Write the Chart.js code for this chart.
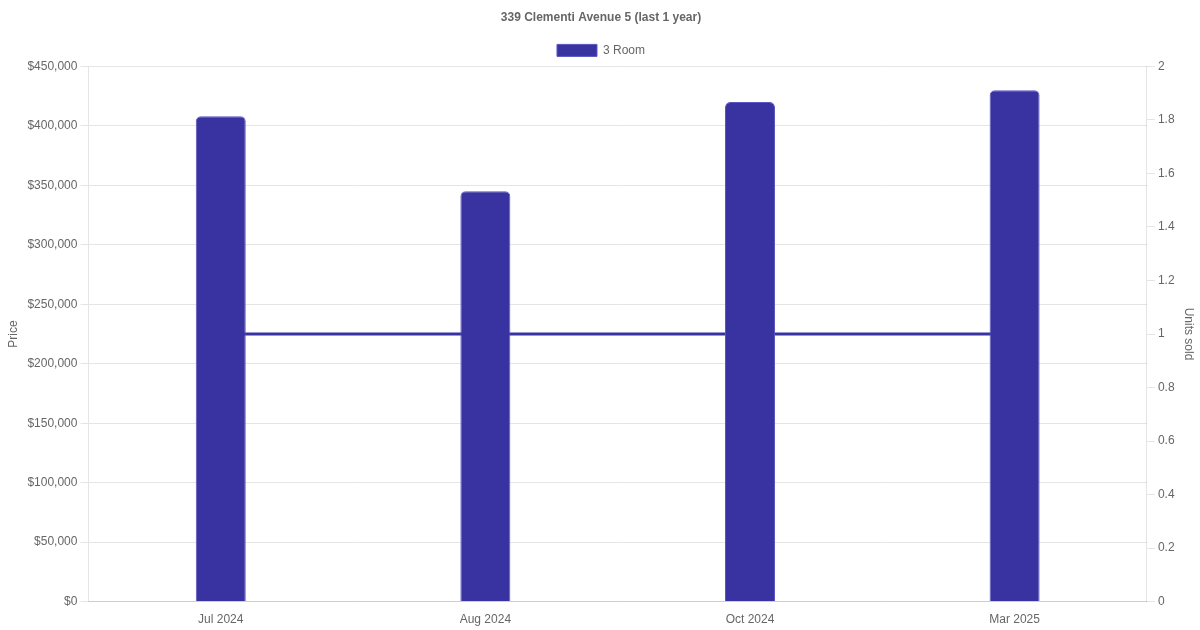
<!DOCTYPE html>
<html>
<head>
<meta charset="utf-8">
<script src="https://cdn.jsdelivr.net/npm/chart.js@4"></script>
<style>
  html, body { margin: 0; padding: 0; background: #fff; }
  #wrap { width: 1200px; height: 630px; }
</style>
</head>
<body>
<div id="wrap"><canvas id="grafico"></canvas></div>
<script>
const months = ["Jul 2024", "Aug 2024", "Oct 2024", "Mar 2025"];
const prices = [408000, 345000, 420000, 430000];
const unitsSold = [1, 1, 1, 1];

const colour = "#3833a0";

Chart.defaults.font.family = "'Liberation Sans', Arial, sans-serif";
Chart.defaults.color = "#666";

const ctx = document.getElementById("grafico").getContext("2d");
const grafico = new Chart(ctx, {
  type: "bar",
  data: {
    labels: months,
    datasets: [
      {
        label: "3 Room",
        data: prices,
        backgroundColor: colour,
        borderColor: "#5a55c0",
        borderWidth: 1,
        borderRadius: 5,
        borderSkipped: "bottom",
        maxBarThickness: 50,
        yAxisID: "y",
        order: 1,
      },
      {
        type: "line",
        label: "Units sold",
        data: unitsSold,
        borderColor: colour,
        backgroundColor: colour,
        borderWidth: 3,
        pointRadius: 0,
        yAxisID: "y1",
        order: 2,
      },
    ],
  },
  options: {
    responsive: true,
    maintainAspectRatio: false,
    animation: false,
    layout: { padding: { left: 2 } },
    plugins: {
      title: {
        display: true,
        text: "339 Clementi Avenue 5 (last 1 year)",
        font: { size: 12, weight: "bold" },
      },
      legend: {
        position: "top",
        labels: { filter: (item) => item.datasetIndex === 0 },
      },
    },
    scales: {
      x: {
        grid: { display: false },
      },
      y: {
        position: "left",
        beginAtZero: true,
        max: 450000,
        ticks: {
          stepSize: 50000,
          callback: (v) => "$" + v.toLocaleString("en-US"),
        },
        title: { display: true, text: "Price" },
      },
      y1: {
        position: "right",
        beginAtZero: true,
        max: 2,
        ticks: {
          stepSize: 0.2,
          callback: (v) => String(Math.round(v * 10) / 10),
        },
        grid: { drawOnChartArea: false },
        title: { display: true, text: "Units sold" },
      },
    },
  },
});
</script>
</body>
</html>
